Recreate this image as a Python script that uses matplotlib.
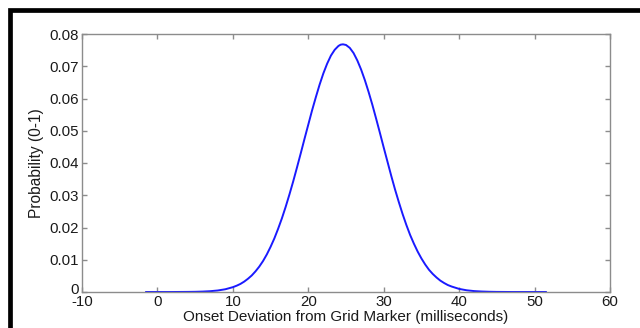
import matplotlib
matplotlib.use("Agg")
import matplotlib.pyplot as plt
import matplotlib.transforms as mtransforms
from matplotlib.patches import Rectangle

# Values
x_ms = [-1.5, 0, 2, 4, 5, 6, 7, 8, 9, 10, 10.5, 11, 11.5, 12, 12.5, 13, 13.5, 14, 14.5,
        15, 15.5, 16, 16.5, 17, 17.5, 18, 18.5, 19, 19.5, 20, 20.5, 21, 21.5, 22, 22.5,
        23, 23.5, 24, 24.3, 24.6, 25, 25.5, 26, 26.5, 27, 27.5, 28, 28.5, 29, 29.5,
        30, 30.5, 31, 31.5, 32, 32.5, 33, 33.5, 34, 34.5, 35, 35.5, 36, 36.5, 37,
        37.5, 38, 38.5, 39, 40, 41, 42, 43, 44, 45, 47, 49, 51.5]
prob = [0.0, 0.0, 0.0, 0.00003, 0.00006, 0.00013, 0.00025, 0.00047, 0.00085, 0.0015,
        0.00195, 0.0025, 0.00322, 0.0041, 0.00512, 0.0064, 0.00787, 0.0096, 0.01164,
        0.0140, 0.01661, 0.0196, 0.02283, 0.0264, 0.03024, 0.0343, 0.0386, 0.0430, 0.0475,
        0.0519, 0.0563, 0.0604, 0.0643, 0.0678, 0.0708,
        0.0733, 0.0751, 0.0763, 0.0767, 0.0768, 0.0766, 0.0757, 0.0741, 0.0718, 0.0690,
        0.0657, 0.0620, 0.0580, 0.0537, 0.0493,
        0.0448, 0.0404, 0.0360, 0.0318, 0.0279, 0.0242, 0.0208, 0.0177, 0.0150, 0.01254,
        0.0104, 0.00853, 0.0069, 0.0056, 0.0045,
        0.00354, 0.0028, 0.00216, 0.0017, 0.00096, 0.00053, 0.00028, 0.00015, 0.00007,
        0.00003, 0.0, 0.0, 0.0]
x_ticks = [-10, 0, 10, 20, 30, 40, 50, 60]
y_ticks = [0, 0.01, 0.02, 0.03, 0.04, 0.05, 0.06, 0.07, 0.08]
y_tick_labels = ["0", "0.01", "0.02", "0.03", "0.04", "0.05", "0.06", "0.07", "0.08"]

plt.rcParams['font.family'] = ['Liberation Sans', 'DejaVu Sans']

fig = plt.figure(figsize=(6.4, 3.28), dpi=100)
ax = fig.add_axes([82/640, 1-292/328, (610-82)/640, (292-34)/328])

ax.plot(x_ms, prob, color='#1a1aff', linewidth=1.4)

ax.set_xlim(-10, 60)
ax.set_ylim(0, 0.08)
ax.set_xticks(x_ticks)
ax.set_xticklabels([str(t) for t in x_ticks])
ax.set_yticks(y_ticks)
ax.set_yticklabels(y_tick_labels)

for s in ax.spines.values():
    s.set_color('#8c8c8c')
    s.set_linewidth(1.0)
ax.tick_params(direction='in', length=3.6, width=1.0, color='#8c8c8c',
               top=True, right=True, labelsize=10.8, labelcolor='#1a1a1a', pad=2)

# nudge the y "0" label up slightly so it sits just above "-10"
lbl0 = ax.get_yticklabels()[0]
lbl0.set_transform(lbl0.get_transform() +
                   mtransforms.ScaledTranslation(0, 3/100, fig.dpi_scale_trans))

ax.set_xlabel("Onset Deviation from Grid Marker (milliseconds)", fontsize=11,
              color='#1a1a1a', labelpad=1)
ax.set_ylabel("Probability (0-1)", fontsize=11.2, color='#1a1a1a', labelpad=4)

# black frame around the image (top and left visible)
fig.add_artist(Rectangle((9.5/640, -0.1), 1.2, 1 + 0.1 - 9.5/328,
                         transform=fig.transFigure, fill=False,
                         edgecolor='black', linewidth=3.4, clip_on=False))

fig.savefig("out.png", dpi=100, facecolor='white')
